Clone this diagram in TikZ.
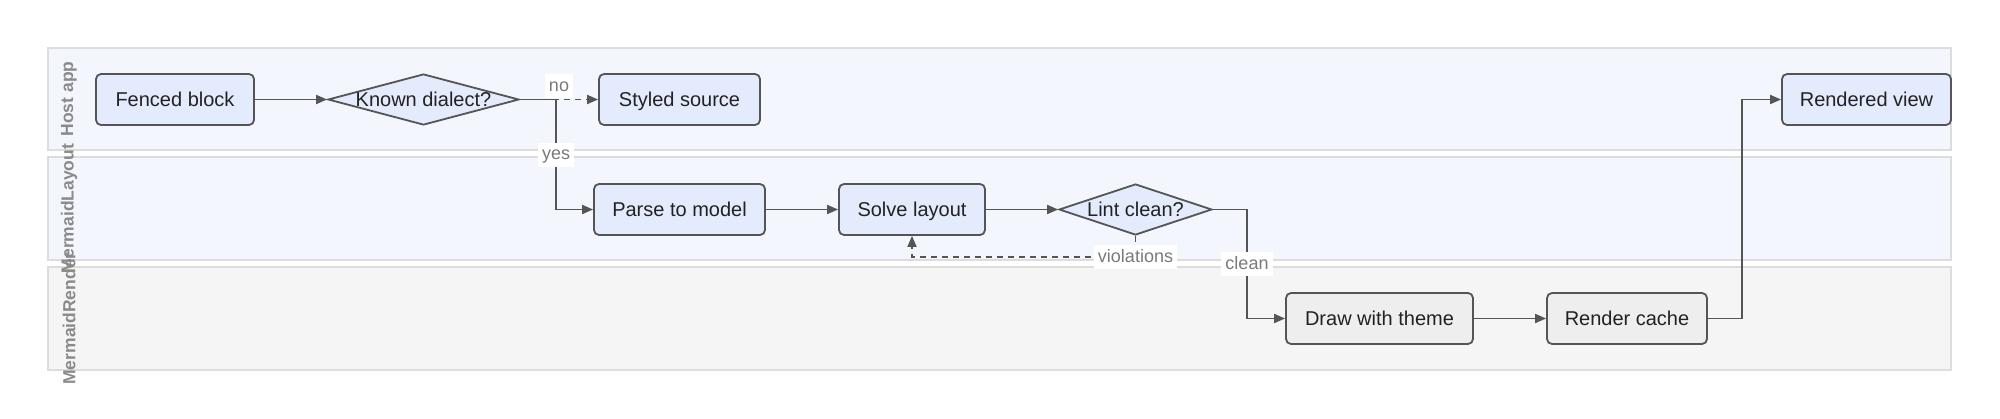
\documentclass[tikz,border=0pt]{standalone}
\usepackage{fontspec}
\setmainfont{Liberation Sans}
\usetikzlibrary{shapes.geometric,arrows.meta}
\definecolor{lanefill}{HTML}{F3F6FD}
\definecolor{lanefillb}{HTML}{F5F5F5}
\definecolor{laneline}{HTML}{DDDDDD}
\definecolor{nodefill}{HTML}{E3EBFC}
\definecolor{nodefillb}{HTML}{EEEEEE}
\definecolor{edgec}{HTML}{555555}
\definecolor{textc}{HTML}{222222}
\definecolor{labelc}{HTML}{7A7A7A}
\definecolor{titlec}{HTML}{8A8A8A}
\tikzset{
  lanebox/.style={draw=laneline, line width=1.5pt},
  lanetitle/.style={rotate=90, text=titlec, font=\fontsize{17.5}{19}\selectfont\bfseries},
  nodetext/.style={text=textc, font=\fontsize{20}{22}\selectfont, text height=14.5pt, text depth=0pt},
  procbox/.style={draw=edgec, fill=nodefill, line width=1.8pt, rounded corners=5pt,
    minimum height=51pt, inner sep=0pt, nodetext},
  rendbox/.style={procbox, fill=nodefillb},
  decision/.style={draw=edgec, fill=nodefill, line width=1.8pt, diamond, inner sep=0pt,
    minimum height=51pt},
  flow/.style={draw=edgec, line width=1.8pt, -{Triangle[length=11pt,width=9pt]}},
  flowdash/.style={flow, dash pattern=on 6pt off 5pt},
  elabel/.style={fill=white, text=labelc, inner sep=4pt, text height=13pt, text depth=3pt,
    font=\fontsize{18}{20}\selectfont}
}
\begin{document}
\begin{tikzpicture}[x=1pt,y=-1pt]
\useasboundingbox (0,0) rectangle (2000,418);
% lanes
\draw[lanebox, fill=lanefill] (48,48) rectangle (1951,150);
\draw[lanebox, fill=lanefill] (48,157) rectangle (1951,260);
\draw[lanebox, fill=lanefillb] (48,267) rectangle (1951,370);
\node[lanetitle] (l1) at (69,99) {Host app};
\node[lanetitle] (l2) at (69,208.5) {MermaidLayout};
\node[lanetitle] (l3) at (69,318.5) {MermaidRender};
% nodes
\node[procbox, minimum width=158pt] (fenced) at (175,99.5) {Fenced block};
\node[decision, minimum width=191pt, label={[nodetext]center:Known dialect?}] (known) at (423.5,99.5) {};
\node[procbox, minimum width=161pt] (styled) at (679.5,99.5) {Styled source};
\node[procbox, minimum width=169pt] (view) at (1866.5,99.5) {Rendered view};
\node[procbox, minimum width=171pt] (parse) at (679.5,209.5) {Parse to model};
\node[procbox, minimum width=146pt] (solve) at (912,209.5) {Solve layout};
\node[decision, minimum width=153pt, label={[nodetext]center:Lint clean?}] (lint) at (1135.5,209.5) {};
\node[rendbox, minimum width=187pt] (drawt) at (1379.5,318.5) {Draw with theme};
\node[rendbox, minimum width=160pt] (cache) at (1627,318.5) {Render cache};
% bend points
\coordinate (jy) at (556,99.5);
\coordinate (jc) at (1247,209.5);
\coordinate (jv) at (1135.5,257);
\coordinate (jr) at (1742,318.5);
% edges
\draw[flow] (fenced) -- (known);
\draw[flowdash] (known.east) -- (styled.west);
\node[elabel, anchor=south] (lno) at ([xshift=3pt,yshift=1pt]jy) {no};
\draw[flow] (known.east) -- (jy) |- node[elabel, pos=0.25] (lyes) {yes} (parse.west);
\draw[flow] (parse) -- (solve);
\draw[flow] (solve) -- (lint);
\draw[flow] (lint.east) -- (jc) |- node[elabel, pos=0.25] (lclean) {clean} (drawt.west);
\draw[flowdash] (lint.south) -- (jv) -| (solve.south);
\node[elabel] (lviol) at (jv) {violations};
\draw[flow] (drawt) -- (cache);
\draw[flow] (cache.east) -- (jr) |- (view.west);
\end{tikzpicture}
\end{document}
